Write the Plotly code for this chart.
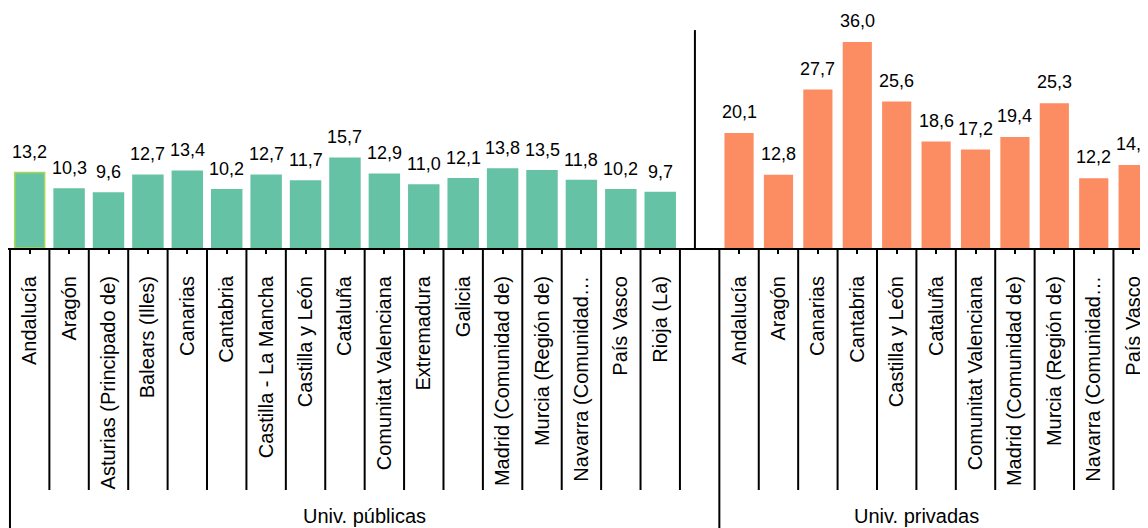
import plotly.graph_objects as go

# datos por comunidad autónoma
public_regions = ["Andalucía", "Aragón", "Asturias (Principado de)", "Balears (Illes)", "Canarias",
                  "Cantabria", "Castilla - La Mancha", "Castilla y León", "Cataluña",
                  "Comunitat Valenciana", "Extremadura", "Galicia", "Madrid (Comunidad de)",
                  "Murcia (Región de)", "Navarra (Comunidad…", "País Vasco", "Rioja (La)"]
public_values = [13.2, 10.3, 9.6, 12.7, 13.4, 10.2, 12.7, 11.7, 15.7, 12.9, 11.0, 12.1, 13.8,
                 13.5, 11.8, 10.2, 9.7]

private_regions = ["Andalucía", "Aragón", "Canarias", "Cantabria", "Castilla y León", "Cataluña",
                   "Comunitat Valenciana", "Madrid (Comunidad de)", "Murcia (Región de)",
                   "Navarra (Comunidad…", "País Vasco"]
private_values = [20.1, 12.8, 27.7, 36.0, 25.6, 18.6, 17.2, 19.4, 25.3, 12.2, 14.5]

group_names = ["Univ. públicas", "Univ. privadas"]

GREEN = "#66c2a5"
ORANGE = "#fc8d62"
FONT = "Liberation Sans, Arial, sans-serif"

# posiciones: un hueco vacío entre los dos grupos
x_pub = list(range(len(public_regions)))
gap = len(public_regions)
x_priv = [gap + 1 + i for i in range(len(private_regions))]
n_slots = gap + 1 + len(private_regions)


def fmt(v):
    return f"{v:.1f}".replace(".", ",")


# la página añade 8px de margen (body), se compensa aquí
PAGE_OFF = 8
W, H = 1148 - PAGE_OFF, 528 - PAGE_OFF
plot_h = 248 - PAGE_OFF
px_per_unit = 5.72


def py(p):
    # pixel de pantalla -> coordenada paper
    return (plot_h - (p - PAGE_OFF)) / plot_h


fig = go.Figure()

pub_lines = ["#a6d854"] + [GREEN] * (len(public_values) - 1)
fig.add_trace(go.Bar(x=x_pub, y=public_values, marker=dict(color=GREEN, line=dict(color=pub_lines, width=1.5)),
                     width=0.76, showlegend=False))
fig.add_trace(go.Bar(x=x_priv, y=private_values, marker=dict(color=ORANGE, line=dict(width=0)),
                     width=0.74, showlegend=False))

# etiquetas de valor
for xs, vs in ((x_pub, public_values), (x_priv, private_values)):
    for xv, v in zip(xs, vs):
        fig.add_annotation(x=xv, y=v, text=fmt(v), showarrow=False, yanchor="bottom", yshift=9,
                           font=dict(size=18, color="black", family=FONT))

# separadores de categorías bajo el eje
for i in range(n_slots + 1):
    xb = i - 0.5
    bottom = py(540) if i in (0, gap + 1) else py(490)
    fig.add_shape(type="line", xref="x", yref="paper", x0=xb, x1=xb, y0=0, y1=bottom,
                  line=dict(color="black", width=2), layer="above")

# línea vertical que separa los grupos
fig.add_shape(type="line", xref="x", yref="y", x0=gap - 0.12, x1=gap - 0.12, y0=0, y1=38.1,
              line=dict(color="black", width=2))

# nombres de grupo
fig.add_annotation(x=(gap + 1 - 1) / 2, y=py(503), xref="x", yref="paper", text=group_names[0],
                   showarrow=False, yanchor="top", font=dict(size=20, color="black", family=FONT))
fig.add_annotation(x=(gap + n_slots - 1) / 2, y=py(503), xref="x", yref="paper", text=group_names[1],
                   showarrow=False, yanchor="top", font=dict(size=20, color="black", family=FONT))

slot_px = 39.41
fig.update_layout(
    width=W, height=H,
    margin=dict(l=0, r=0, t=0, b=H - plot_h, autoexpand=False),
    paper_bgcolor="white", plot_bgcolor="white",
    font=dict(family=FONT, color="black"),
    xaxis=dict(
        tickmode="array",
        tickvals=x_pub + x_priv,
        ticktext=public_regions + private_regions,
        tickangle=-90,
        tickfont=dict(size=20, color="black", family=FONT),
        ticks="outside", ticklen=4, tickwidth=1.5, tickcolor="black",
        showline=True, linecolor="black", linewidth=2,
        showgrid=False, zeroline=False,
        range=[-0.55, -0.55 + 1140 / slot_px],
        ticklabelstandoff=14,
    ),
    yaxis=dict(visible=False, range=[0, plot_h / px_per_unit], showgrid=False, zeroline=False),
)

fig.write_html("out.html")
